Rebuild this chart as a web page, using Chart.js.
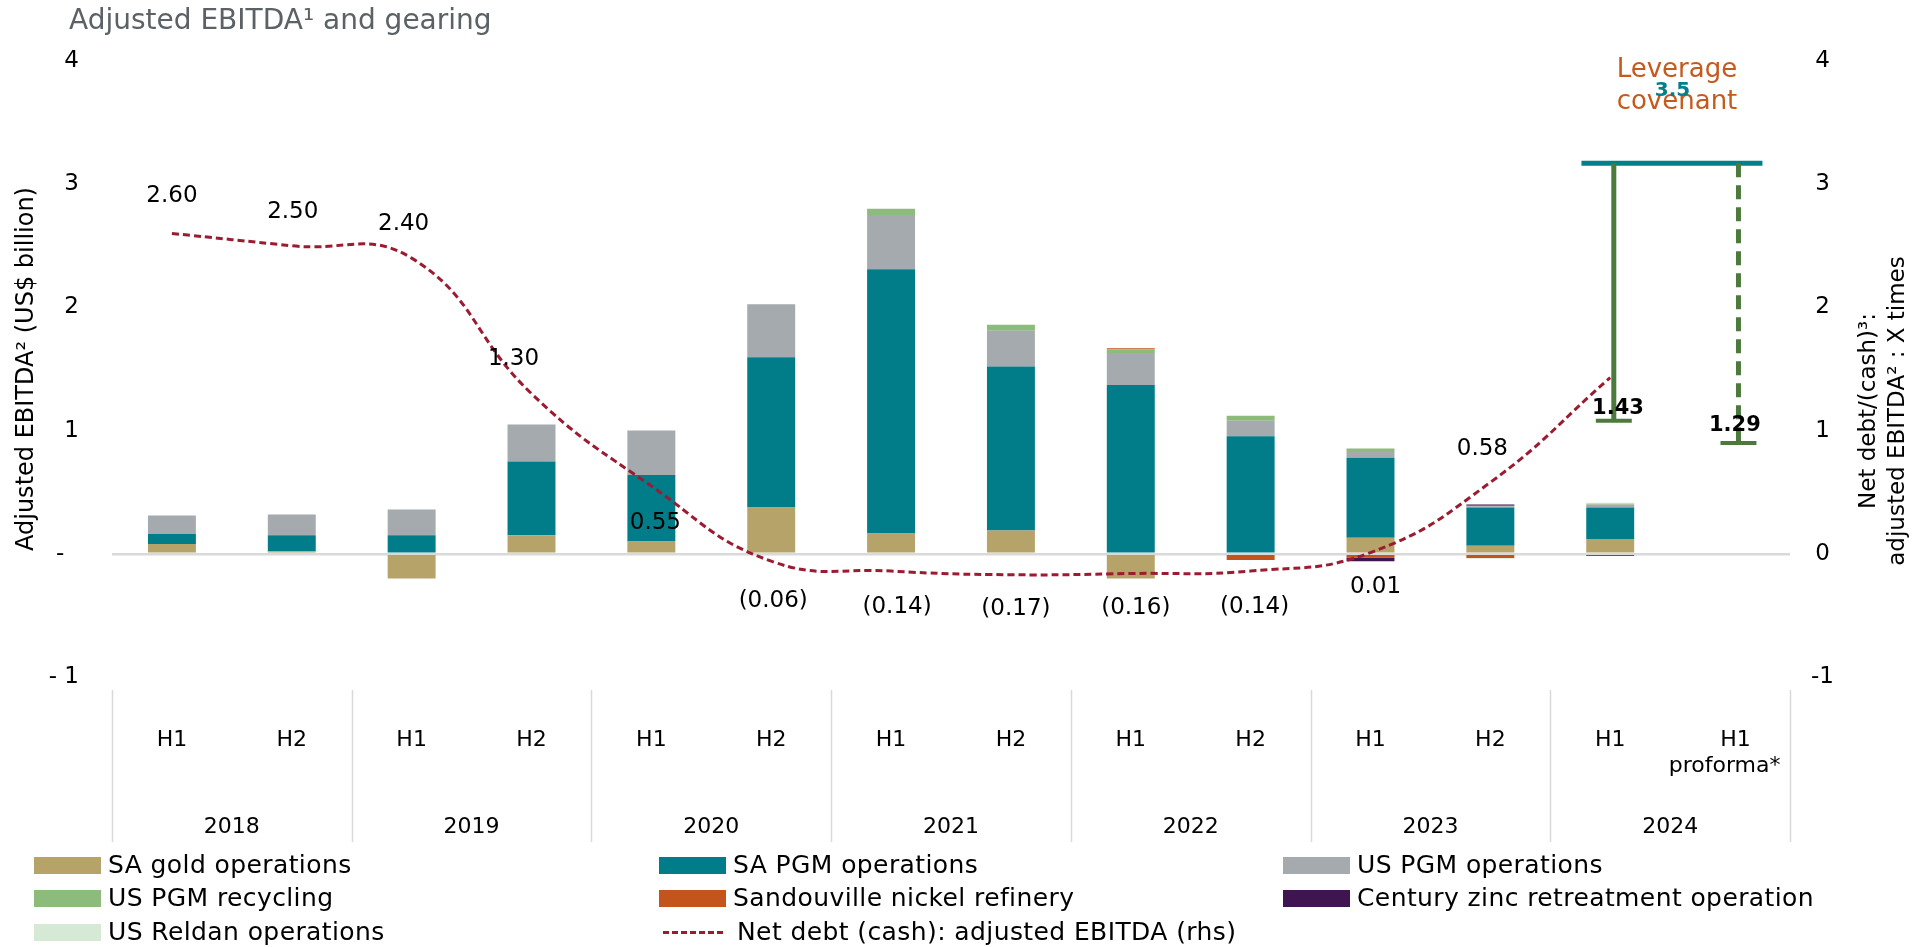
<!DOCTYPE html>
<html>
<head>
<meta charset="utf-8">
<script src="https://cdn.jsdelivr.net/npm/chart.js@4.4.1/dist/chart.umd.min.js"></script>
<style>
html,body{margin:0;padding:0;background:#fff;}
#wrap{position:relative;width:1913px;height:947px;font-family:"DejaVu Sans",sans-serif;overflow:hidden;}
#c{position:absolute;left:0;top:0;}
#title{position:absolute;left:69px;top:4px;font-size:28px;line-height:32px;color:#5b6266;white-space:nowrap;}
.li{position:absolute;display:flex;align-items:center;font-size:25px;letter-spacing:0.4px;line-height:30px;height:30px;color:#000;white-space:nowrap;}
.sw{width:67px;height:17px;margin-right:7px;flex:none;}
.swl{width:60px;height:3px;margin-right:14px;flex:none;background:repeating-linear-gradient(90deg,#9b1b30 0 6px,transparent 6px 9px);}
</style>
</head>
<body>
<div id="wrap">
  <canvas id="c" width="1913" height="947"></canvas>
  <div id="title">Adjusted EBITDA¹ and gearing</div>
  <div id="legend"></div>
</div>
<script>
// ---------- data ----------
const categories = [['H1'],['H2'],['H1'],['H2'],['H1'],['H2'],['H1'],['H2'],['H1'],['H2'],['H1'],['H2'],['H1'],['\u2002H1','proforma*\u2002']];
const years = ['2018','2019','2020','2021','2022','2023','2024'];

const saGold      = [0.08, 0.02, -0.20, 0.15, 0.10, 0.375, 0.165, 0.19, -0.20, -0.01, 0.13, 0.065, 0.12, null];
const saPgm       = [0.08, 0.13, 0.15, 0.60, 0.54, 1.22, 2.145, 1.33, 1.37, 0.955, 0.65, 0.31, 0.255, null];
const usPgm       = [0.15, 0.17, 0.21, 0.30, 0.36, 0.43, 0.44, 0.29, 0.26, 0.125, 0.055, 0.01, 0.025, null];
const usRecycling = [null, null, null, null, null, null, 0.05, 0.05, 0.03, 0.04, 0.02, 0.006, 0.006, null];
const sandouville = [null, null, null, null, null, null, null, null, 0.008, -0.04, -0.03, -0.035, null, null];
const centuryZinc = [null, null, null, null, null, null, null, null, null, null, -0.03, 0.01, -0.015, null];
const usReldan    = [null, null, null, null, null, null, null, null, null, null, null, -0.005, 0.008, null];

const netDebtRatio = [2.60, 2.50, 2.40, 1.30, 0.55, -0.06, -0.14, -0.17, -0.16, -0.14, 0.01, 0.58, 1.43, null];

const covenantLabel = ['3.5'];
const covenantLine  = [3.17];            // plotted level of the covenant bar
const covenantSpan  = [11.76, 13.27];    // category-index span of the covenant bar
const gearingLabels = ['1.43', '1.29'];
const gearingX      = [12.03, 13.07];    // category-index position of the gearing drops
const gearingLow    = [1.08, 0.90];      // bottom of each drop
const capHalf       = [0.15];

const seriesNames = ['SA gold operations','SA PGM operations','US PGM operations','US PGM recycling',
                     'Sandouville nickel refinery','Century zinc retreatment operation','US Reldan operations'];
const seriesColors = ['#b5a36a','#007d89','#a4aaad','#8cbb7b','#c2541c','#3f1451','#d6e9d5'];
const lineName = 'Net debt (cash): adjusted EBITDA (rhs)';

// ---------- chart ----------
const FONT = '"DejaVu Sans", sans-serif';
Chart.defaults.font.family = FONT;
Chart.defaults.color = '#000';

const barSeries = [saGold, saPgm, usPgm, usRecycling, sandouville, centuryZinc, usReldan];
const datasets = barSeries.map((d, i) => ({
  type: 'bar', label: seriesNames[i], data: d, backgroundColor: seriesColors[i],
  stack: 'ebitda', grouped: false, xAxisID: 'x', yAxisID: 'y', barPercentage: 0.4, categoryPercentage: 1.0,
  borderWidth: 0, order: 1
}));
datasets.push({
  type: 'line', label: lineName, data: netDebtRatio, xAxisID: 'x', yAxisID: 'y1',
  borderColor: '#9b1b30', borderWidth: 3, borderDash: [7, 4], pointRadius: 0, tension: 0.45,
  fill: false, order: -1, spanGaps: false
});
// covenant bar
datasets.push({
  type: 'line', label: 'covenant', data: covenantSpan.map(x => ({x, y: covenantLine[0]})),
  xAxisID: 'xl', yAxisID: 'y1', borderColor: '#00808a', borderWidth: 5, pointRadius: 0, tension: 0, order: -2
});
// gearing drops and caps
gearingX.forEach((gx, i) => {
  datasets.push({
    type: 'line', label: 'drop' + i, data: [{x: gx, y: covenantLine[0]}, {x: gx, y: gearingLow[i]}],
    xAxisID: 'xl', yAxisID: 'y1', borderColor: '#4c7a3d', borderWidth: 5,
    borderDash: i === 1 ? [14, 8] : [], pointRadius: 0, tension: 0, order: -3
  });
  datasets.push({
    type: 'line', label: 'cap' + i, data: [{x: gx - capHalf[0], y: gearingLow[i]}, {x: gx + capHalf[0], y: gearingLow[i]}],
    xAxisID: 'xl', yAxisID: 'y1', borderColor: '#4c7a3d', borderWidth: 4, pointRadius: 0, tension: 0, order: -3
  });
});

const lineLabelOffsets = [[0,-37],[1,-34],[-8,-34],[-18,-35],[4,37],[2,40],[6,36],[5,34],[5,35],[4,36],[5,34],[-8,-33]];
function fmt(v){ return v < 0 ? '(' + Math.abs(v).toFixed(2) + ')' : v.toFixed(2); }

const textPlugin = {
  id: 'texts',
  afterDraw(chart) {
    const {ctx, scales, chartArea} = chart;
    ctx.save();
    // year separators
    const xs = scales.x;
    const cw = (xs.right - xs.left) / categories.length;
    ctx.strokeStyle = '#d9d9d9';
    ctx.lineWidth = 1.5;
    for (let i = 0; i <= years.length; i++) {
      const idx = Math.min(2 * i, categories.length - 1);
      const px = xs.getPixelForValue(idx) + (2 * i <= categories.length - 1 ? -cw / 2 : cw / 2);
      ctx.beginPath();
      ctx.moveTo(Math.round(px) + 0.5, chartArea.bottom + 13);
      ctx.lineTo(Math.round(px) + 0.5, scales.xYear.bottom);
      ctx.stroke();
    }
    // axis titles
    ctx.fillStyle = '#000';
    ctx.textAlign = 'center';
    ctx.textBaseline = 'middle';
    ctx.font = '24px ' + FONT;
    ctx.save();
    ctx.translate(27, (chartArea.top + chartArea.bottom) / 2);
    ctx.rotate(-Math.PI / 2);
    ctx.fillText('Adjusted EBITDA² (US$ billion)', 0, 0);
    ctx.restore();
    ctx.font = '23px ' + FONT;
    ctx.save();
    ctx.translate(1869, 411);
    ctx.rotate(-Math.PI / 2);
    ctx.fillText('Net debt/(cash)³:', 0, 0);
    ctx.fillText('adjusted EBITDA² : X times', 0, 29);
    ctx.restore();
    // line data labels
    const lineIdx = barSeries.length;
    const meta = chart.getDatasetMeta(lineIdx);
    ctx.font = '23px ' + FONT;
    lineLabelOffsets.forEach((o, i) => {
      const pt = meta.data[i];
      if (!pt || netDebtRatio[i] == null) return;
      ctx.fillText(fmt(netDebtRatio[i]), pt.x + o[0], pt.y + o[1]);
    });
    // gearing labels
    const xl = scales.xl, y1 = scales.y1;
    ctx.font = 'bold 21px ' + FONT;
    ctx.fillText(gearingLabels[0], xl.getPixelForValue(12.065), y1.getPixelForValue(1.18));
    ctx.fillText(gearingLabels[1], xl.getPixelForValue(13.04), y1.getPixelForValue(1.045));
    // covenant text
    ctx.font = '26px ' + FONT;
    ctx.fillStyle = '#c55a1d';
    ctx.fillText('Leverage', xl.getPixelForValue(12.557), y1.getPixelForValue(3.927));
    ctx.fillText('covenant', xl.getPixelForValue(12.557), y1.getPixelForValue(3.668));
    ctx.font = 'bold 20px ' + FONT;
    ctx.fillStyle = '#00808a';
    ctx.fillText(covenantLabel[0], xl.getPixelForValue(12.52), y1.getPixelForValue(3.757));
    ctx.restore();
  }
};

new Chart(document.getElementById('c'), {
  type: 'bar',
  data: { datasets },
  plugins: [textPlugin],
  options: {
    responsive: false,
    animation: false,
    devicePixelRatio: 1,
    layout: { padding: { left: 0, right: 0, top: 61, bottom: 105 } },
    plugins: { legend: { display: false }, tooltip: { enabled: false }, title: { display: false } },
    scales: {
      x: {
        type: 'category', labels: categories, position: 'bottom', offset: true, weight: 0,
        grid: { display: false }, border: { display: false },
        ticks: { font: { size: 22 }, color: '#000', padding: 42, crossAlign: 'near', maxRotation: 0, autoSkip: false },
        afterFit: s => { s.height = 100; }
      },
      xYear: {
        type: 'category', labels: years, position: 'bottom', offset: true, weight: 1,
        grid: { display: false }, border: { display: false },
        ticks: { font: { size: 22 }, color: '#000', padding: 29, crossAlign: 'near', maxRotation: 0, autoSkip: false },
        afterFit: s => { s.height = 65; }
      },
      xl: { type: 'linear', display: false, offset: false, min: -0.5, max: 13.5, grid: { offset: false } },
      y: {
        position: 'left', min: -1, max: 4,
        ticks: { stepSize: 1, font: { size: 23 }, color: '#000', padding: 33,
          callback: v => v === 0 ? '-\u2007' : (v < 0 ? '- ' + Math.abs(v) : String(v)) },
        grid: { color: c => c.tick && c.tick.value === 0 ? '#d9d9d9' : 'rgba(0,0,0,0)', lineWidth: 2.5, drawTicks: false },
        border: { display: false },
        afterFit: s => { s.width = 112; }
      },
      y1: {
        position: 'right', min: -1, max: 4,
        ticks: { stepSize: 1, font: { size: 23 }, color: '#000', padding: 21, crossAlign: 'center' },
        grid: { display: false, drawTicks: false }, border: { display: false },
        afterFit: s => { s.width = 123; }
      }
    }
  }
});

// ---------- HTML legend ----------
const legendCols = [34, 659, 1283];
const legendRows = [865, 898, 932];
const legendItems = seriesNames.map((n, i) => ({ text: n, color: seriesColors[i], line: false }));
legendItems.push({ text: lineName, color: '#9b1b30', line: true });
const lg = document.getElementById('legend');
legendItems.forEach((it, i) => {
  const el = document.createElement('div');
  el.className = 'li';
  el.style.left = legendCols[i % 3] + 'px';
  el.style.top = (legendRows[Math.floor(i / 3)] - 15) + 'px';
  const sw = document.createElement('div');
  sw.className = it.line ? 'swl' : 'sw';
  if (it.line) sw.style.marginLeft = '4px'; else sw.style.background = it.color;
  el.appendChild(sw);
  el.appendChild(document.createTextNode(it.text));
  lg.appendChild(el);
});
</script>
</body>
</html>
